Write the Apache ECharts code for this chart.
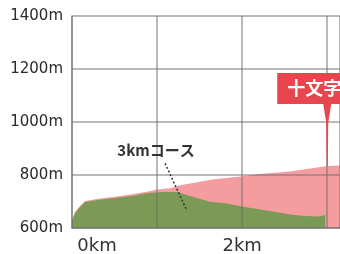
<!DOCTYPE html>
<html>
<head>
<meta charset="utf-8">
<script src="https://cdn.jsdelivr.net/npm/echarts@6/dist/echarts.min.js"></script>
<style>
  html, body { margin: 0; padding: 0; background: #fff; }
  #chart { width: 340px; height: 254px; }
</style>
</head>
<body>
<div id="chart"></div>
<script>
// long course (pink) profile: distance km / altitude m
var pinkKm  = [0, 0.035, 0.094, 0.153, 0.306, 0.506, 0.706, 0.894, 1.0, 1.153, 1.27, 1.42, 1.65, 1.98, 2.2, 2.5, 2.6, 3.0, 3.15];
var pinkAlt = [628, 660, 683, 702, 710, 718, 727, 738, 745, 750, 761, 770, 783, 794, 804, 811, 815, 834, 836];
// 3km course (green) profile
var greenKm  = [0, 0.035, 0.094, 0.153, 0.306, 0.506, 0.706, 0.894, 1.059, 1.235, 1.424, 1.624, 1.824, 2.012, 2.212, 2.39, 2.565, 2.74, 2.894, 2.976];
var greenAlt = [625, 657, 679, 698, 706, 713, 721, 732, 736, 736, 717, 699, 692, 680, 670, 660, 651, 645, 643, 649];
var yTicks = [600, 800, 1000, 1200, 1400];
var courseLabel = '3kmコース';
var peakName = '十文字峠';
var peakAt = [3.0, 834];

var pink = pinkKm.map(function (d, i) { return [d, pinkAlt[i]]; });
var green = greenKm.map(function (d, i) { return [d, greenAlt[i]]; });

var gridColor = 'rgba(110,110,110,0.65)';
var myChart = echarts.init(document.getElementById('chart'));
var option = {
  animation: false,
  grid: { left: 72, top: 16, right: 0, bottom: 26, outerBoundsMode: 'none', containLabel: false },
  xAxis: {
    type: 'value', min: 0, max: 3.15, interval: 1, z: 3,
    axisLine: { lineStyle: { color: gridColor, width: 1.5 } },
    axisTick: { show: false },
    splitLine: { lineStyle: { color: gridColor, width: 1.5 } },
    axisLabel: {
      margin: 9, color: '#333', fontSize: 18, fontFamily: 'DejaVu Sans',
      showMaxLabel: false,
      formatter: function (v) {
        if (v === 0) return '{s|0km}';
        return v % 2 === 0 ? v + 'km' : '';
      },
      rich: { s: { padding: [0, 0, 0, 50], color: '#333', fontSize: 18, fontFamily: 'DejaVu Sans' } }
    }
  },
  yAxis: {
    type: 'value', min: yTicks[0], max: yTicks[yTicks.length - 1], interval: 200, z: 3,
    axisLine: { show: true, lineStyle: { color: gridColor, width: 1.5 } },
    axisTick: { show: false },
    splitLine: { lineStyle: { color: gridColor, width: 1.5 } },
    axisLabel: {
      margin: 9, color: '#2a2a2a', fontSize: 15, fontFamily: 'DejaVu Sans',
      formatter: function (v) { return v + 'm'; }
    }
  },
  series: [
    {
      type: 'line', data: pink, symbol: 'none', z: 1,
      lineStyle: { width: 0 },
      areaStyle: { color: '#f49c9e', opacity: 1, origin: 'start' },
      markPoint: {
        symbol: 'path://M0,0 L8,0 L5,30 L4.6,100 L3.4,100 L3,30 Z',
        symbolSize: [8, 62],
        symbolOffset: [0, '-50%'],
        itemStyle: { color: '#e8464e' },
        data: [{ coord: peakAt }],
        label: {
          show: true, position: 'top', distance: 0, offset: [-4, 0],
          formatter: peakName,
          backgroundColor: '#e8464e', padding: [6, 10, 6, 10],
          color: '#fff', fontSize: 18, lineHeight: 19, fontWeight: 'bold',
          fontFamily: 'Noto Sans CJK JP'
        }
      }
    },
    {
      type: 'line', data: green, symbol: 'none', z: 2,
      lineStyle: { width: 0 },
      areaStyle: { color: '#7a9a55', opacity: 1, origin: 'start' },
      markLine: {
        silent: true, symbol: ['none', 'none'],
        lineStyle: { color: '#333', width: 1.5, type: [2, 2] },
        label: { show: false },
        data: [[{ coord: [1.094, 844] }, { coord: [1.341, 672] }]]
      },
      markPoint: {
        symbol: 'circle', symbolSize: 0,
        data: [{ coord: [0.988, 894] }],
        label: {
          show: true, position: 'inside', formatter: courseLabel,
          color: '#333', fontSize: 15, fontWeight: 'bold', fontFamily: 'Noto Sans CJK JP'
        }
      }
    }
  ]
};
myChart.setOption(option);
</script>
</body>
</html>
